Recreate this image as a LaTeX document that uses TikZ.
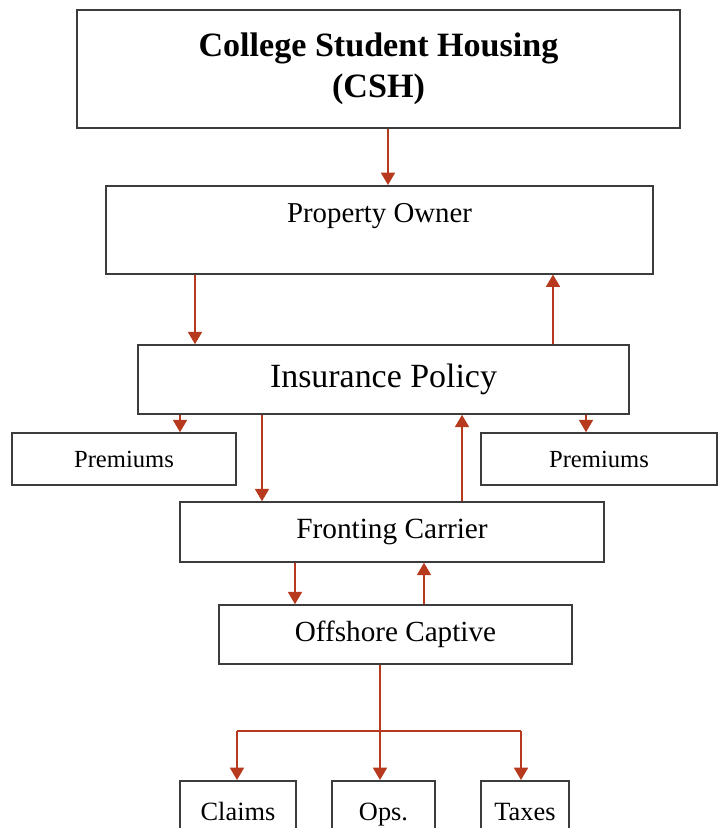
\documentclass[tikz,border=0pt]{standalone}
\usepackage{fontspec}
\setmainfont{Liberation Serif}
\usetikzlibrary{calc}
\usetikzlibrary{arrows.meta}

\definecolor{flecha}{RGB}{184,58,30}
\definecolor{borde}{RGB}{60,60,60}

\begin{document}
\begin{tikzpicture}[x=0.02cm,y=-0.02cm]
\tikzset{caja/.style={draw=borde,line width=0.9pt,rectangle,inner sep=0pt},
  gasto/.style={caja,anchor=north,text height=0.8cm,text depth=0.5cm,font=\fontsize{15}{18}\selectfont},
  linea/.style={color=flecha,line width=0.8pt},
  flujo/.style={linea,-{Triangle[width=8pt,length=7pt]}}}
\useasboundingbox (0,0) rectangle (719,828);

% Cajas principales
\node (csh) at (378.5,69) [caja,minimum width=12.06cm,minimum height=2.36cm,align=center,font=\fontsize{19.4}{23}\selectfont\bfseries] {College Student Housing\\(CSH)};
\node (owner) at (379.5,185) [caja,anchor=north,minimum width=10.94cm,text height=0.74cm,text depth=1.02cm,font=\fontsize{16.4}{19}\selectfont] {Property Owner};
\node (ins) at (383.5,379.5) [caja,minimum width=9.82cm,minimum height=1.38cm,font=\fontsize{19.3}{23}\selectfont] {Insurance Policy};
\node (premL) at (124,459) [caja,minimum width=4.48cm,minimum height=1.04cm,font=\fontsize{14}{17}\selectfont] {Premiums};
\node (premR) at (599,459) [caja,minimum width=4.72cm,minimum height=1.04cm,font=\fontsize{14}{17}\selectfont] {Premiums};
\node (front) at (392,532) [caja,minimum width=8.48cm,minimum height=1.2cm,font=\fontsize{16.7}{20}\selectfont] {Fronting Carrier};
\node (off) at (395.5,634.5) [caja,minimum width=7.06cm,minimum height=1.18cm,font=\fontsize{16.6}{20}\selectfont] {Offshore Captive};
% Cajas de gastos
\node (claims) at (238,780) [gasto,minimum width=2.32cm] {Claims};
\node (ops) at (383.5,780) [gasto,minimum width=2.06cm] {Ops.};
\node (taxes) at (525,780) [gasto,minimum width=1.76cm] {Taxes};

% Puntos de salida
\coordinate (p1) at (388,0);
\coordinate (p2) at (195,0);
\coordinate (p3) at (553,0);
\coordinate (p4) at (180,0);
\coordinate (p5) at (586,0);
\coordinate (p6) at (262,0);
\coordinate (p7) at (462,0);
\coordinate (p8) at (295,0);
\coordinate (p9) at (424,0);
\coordinate (rama) at (380,731);
\coordinate (ramaL) at (237,731);
\coordinate (ramaR) at (521,731);

\path
(csh.south -| p1) edge [flujo] (owner.north -| p1)
(owner.south -| p2) edge [flujo] (ins.north -| p2)
(ins.north -| p3) edge [flujo] (owner.south -| p3)
(ins.south -| p4) edge [flujo] (premL.north -| p4)
(ins.south -| p5) edge [flujo] (premR.north -| p5)
(ins.south -| p6) edge [flujo] (front.north -| p6)
(front.north -| p7) edge [flujo] (ins.south -| p7)
(front.south -| p8) edge [flujo] (off.north -| p8)
(off.north -| p9) edge [flujo] (front.south -| p9);

% --- Reparto del cautivo ---
\draw[linea] (off.south -| rama) -- (rama);
\draw[linea] (ramaL) -- (ramaR);
\draw[flujo] (ramaL) -- (claims.north -| ramaL);
\draw[flujo] (rama) -- (ops.north -| rama);
\draw[flujo] (ramaR) -- (taxes.north -| ramaR);

\end{tikzpicture}
\end{document}
